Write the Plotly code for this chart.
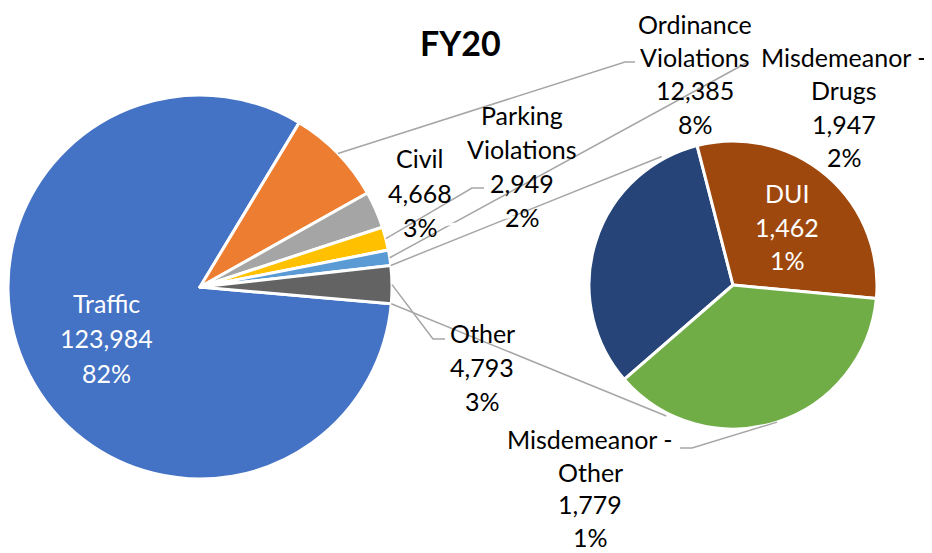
import math
import plotly.graph_objects as go

# page body has an 8px margin: figure is drawn at (8, 8) in the window
OFF = 8
WIN_W, WIN_H = 932, 553
W, H = WIN_W - OFF, WIN_H - OFF

# ---------------- data ----------------
main_labels = ["Traffic", "Ordinance Violations", "Civil", "Parking Violations",
               "Misdemeanor - Drugs", "Other"]
main_values = [123984, 12385, 4668, 2949, 1947, 4793]
main_pct = ["82%", "8%", "3%", "2%", "2%", "3%"]
main_colors = ["#4472C4", "#ED7D31", "#A5A5A5", "#FFC000", "#5B9BD5", "#636363"]

sec_labels = ["", "DUI", "Misdemeanor - Other"]
sec_values = [1552, 1462, 1779]
sec_pct = ["", "1%", "1%"]
sec_colors = ["#264478", "#9E480E", "#70AD47"]

title_text = "FY20"

# ---------------- layout geometry (window pixels) ----------------
MAIN_C, MAIN_R, MAIN_ROT = (200.0, 287.0), 192.0, 95.0
SEC_C, SEC_R, SEC_ROT = (733.0, 285.0), 144.0, 229.0
FONT = "Lato, 'Open Sans', sans-serif"
FS = 25
LEADER = "#A6A6A6"


def fx(x):
    return (x - OFF) / W


def fy(y):
    return 1 - (y - OFF) / H


def clamp(v):
    return min(1.0, max(0.0, v))


def domain(c, r):
    return dict(x=[clamp(fx(c[0] - r)), clamp(fx(c[0] + r))],
                y=[clamp(fy(c[1] + r)), clamp(fy(c[1] - r))])


def edges(values, rot):
    tot = float(sum(values))
    out, a = [], rot
    for v in values:
        b = a + 360.0 * v / tot
        out.append((a, b))
        a = b
    return out


def pt(c, r, ang):
    t = math.radians(ang)
    return (c[0] + r * math.sin(t), c[1] - r * math.cos(t))


main_edges = edges(main_values, MAIN_ROT)
sec_edges = edges(sec_values, SEC_ROT)

fig = go.Figure()
fig.add_trace(go.Pie(
    labels=main_labels, values=main_values, sort=False, direction="clockwise",
    rotation=MAIN_ROT, textinfo="none", hoverinfo="label+value",
    marker=dict(colors=main_colors, line=dict(color="white", width=3)),
    domain=domain(MAIN_C, MAIN_R), showlegend=False))
fig.add_trace(go.Pie(
    labels=[l if l else "Misdemeanor (other part)" for l in sec_labels],
    values=sec_values, sort=False, direction="clockwise",
    rotation=SEC_ROT, textinfo="none", hoverinfo="label+value",
    marker=dict(colors=sec_colors, line=dict(color="white", width=3)),
    domain=domain(SEC_C, SEC_R), showlegend=False))

annotations = []
shapes = []


def add_label(lines, x, y0, dy, color="black"):
    for i, s in enumerate(lines):
        annotations.append(dict(x=fx(x), y=fy(y0 + i * dy), xref="paper", yref="paper",
                                text=s, showarrow=False, xanchor="center",
                                yanchor="middle",
                                font=dict(family=FONT, size=FS, color=color)))


def name_lines(name):
    if name.startswith("Misdemeanor - "):
        return ["Misdemeanor -", name[len("Misdemeanor - "):]]
    if name.endswith(" Violations"):
        return [name[:-len(" Violations")], "Violations"]
    return [name]


def lines_for(name, v, pct):
    return name_lines(name) + [f"{v:,}", pct]


# label placements: index -> (x, first-line y, spacing, colour)
main_pos = {0: (106, 303, 35, "white"), 1: (695, 24, 33.2, "black"),
            2: (420, 158, 34.5, "black"), 3: (522, 115, 34, "black"),
            4: (844, 57, 33.5, "black"), 5: (482, 333, 34, "black")}
sec_pos = {1: (787, 193, 33.5, "white"), 2: (590, 439, 32.6, "black")}

for i, (x, y0, dy, col) in main_pos.items():
    add_label(lines_for(main_labels[i], main_values[i], main_pct[i]), x, y0, dy, col)
for i, (x, y0, dy, col) in sec_pos.items():
    add_label(lines_for(sec_labels[i], sec_values[i], sec_pct[i]), x, y0, dy, col)


def polyline(points, color=LEADER, width=1.5):
    d = "M " + " L ".join(f"{fx(p[0]):.5f},{fy(p[1]):.5f}" for p in points)
    shapes.append(dict(type="path", path=d, xref="paper", yref="paper",
                       line=dict(color=color, width=width)))


# leader lines: slice index -> elbow points (layout)
main_leaders = {1: [(625, 62), (635, 62)], 3: [(472, 188), (484, 188)],
                4: [(748, 62)], 5: [(433, 339), (445, 339)]}
for i, rest in main_leaders.items():
    a, b = main_edges[i]
    polyline([pt(MAIN_C, MAIN_R, (a + b) / 2)] + rest)

sec_leaders = {2: [(692, 448), (680, 448)]}
for i, rest in sec_leaders.items():
    a, b = sec_edges[i]
    polyline([pt(SEC_C, SEC_R, (a + b) / 2)] + rest)

# pie-of-pie connectors from the "Other" slice
oa, ob = main_edges[5]
polyline([pt(MAIN_C, MAIN_R, oa), pt(SEC_C, SEC_R + 3, 331)])
polyline([pt(MAIN_C, MAIN_R, ob), pt(SEC_C, SEC_R + 3, 207)])

# faint white leader artefact crossing "3%" / "2%"
polyline([(428, 227), (545, 213)], color="white", width=2)

annotations.append(dict(x=fx(460), y=fy(42), xref="paper", yref="paper",
                        text="<b>" + title_text + "</b>", showarrow=False,
                        xanchor="center", yanchor="middle",
                        font=dict(family=FONT, size=34, color="black")))

fig.update_layout(width=W, height=H, margin=dict(l=0, r=0, t=0, b=0),
                  paper_bgcolor="white", plot_bgcolor="white",
                  annotations=annotations, shapes=shapes, showlegend=False)

fig.write_html("out.html")
